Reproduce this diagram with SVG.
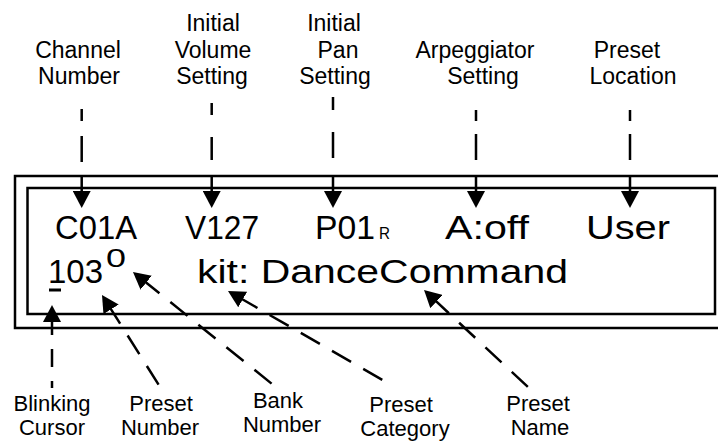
<svg xmlns="http://www.w3.org/2000/svg" width="718" height="442" viewBox="0 0 718 442">
<style>
.lbl{font-family:"Liberation Sans",Arial,sans-serif;font-size:23px;fill:#000;text-anchor:middle}
.bl{font-size:22px}
.lcd{font-family:"Liberation Sans",Arial,sans-serif;font-size:34px;fill:#000}
.box{fill:#fff;stroke:#000;stroke-width:2.5}
.con{fill:none;stroke:#000;stroke-width:2.5}
.dash{stroke-dasharray:22 14}
</style>
<defs>
<marker id="ah" viewBox="0 0 17 18" refX="5" refY="9" markerWidth="17" markerHeight="18" markerUnits="userSpaceOnUse" orient="auto-start-reverse">
<path d="M0,0 L17,9 L0,18 z" fill="#000"/>
</marker>
</defs>
<rect width="718" height="442" fill="#fff"/>

<g id="display">
<rect class="box" x="15" y="176" width="720" height="152"/>
<rect class="box" x="27.5" y="188" width="687.5" height="126"/>
<text class="lcd" x="55" y="239" textLength="82" lengthAdjust="spacingAndGlyphs">C01A</text>
<text class="lcd" x="185" y="239" textLength="74" lengthAdjust="spacingAndGlyphs">V127</text>
<text class="lcd" x="315" y="239" textLength="60" lengthAdjust="spacingAndGlyphs">P01</text>
<text class="lcd" x="379" y="239" style="font-size:16px" textLength="11" lengthAdjust="spacingAndGlyphs">R</text>
<text class="lcd" x="445" y="239" textLength="84" lengthAdjust="spacingAndGlyphs">A:off</text>
<text class="lcd" x="586" y="239" textLength="84" lengthAdjust="spacingAndGlyphs">User</text>
<text class="lcd" x="48" y="283" textLength="55" lengthAdjust="spacingAndGlyphs">103</text>
<text class="lcd" x="106" y="267" style="font-size:26px" textLength="20" lengthAdjust="spacingAndGlyphs">0</text>
<rect x="49" y="288.5" width="12" height="3" fill="#000"/>
<text class="lcd" x="197" y="283" textLength="371" lengthAdjust="spacingAndGlyphs">kit: DanceCommand</text>
</g>

<g id="label-channel"><text class="lbl" x="78" y="58">Channel</text><text class="lbl" x="79" y="84">Number</text></g>
<g id="label-volume"><text class="lbl" x="213" y="31">Initial</text><text class="lbl" x="213" y="58">Volume</text><text class="lbl" x="212" y="84">Setting</text></g>
<g id="label-pan"><text class="lbl" x="334" y="31">Initial</text><text class="lbl" x="338" y="58">Pan</text><text class="lbl" x="335" y="84">Setting</text></g>
<g id="label-arp"><text class="lbl" x="475" y="58">Arpeggiator</text><text class="lbl" x="483" y="84">Setting</text></g>
<g id="label-location"><text class="lbl" x="627" y="58">Preset</text><text class="lbl" x="633" y="84">Location</text></g>
<g id="label-cursor"><text class="lbl bl" x="52" y="411">Blinking</text><text class="lbl bl" x="52" y="435">Cursor</text></g>
<g id="label-presetnum"><text class="lbl bl" x="161" y="411">Preset</text><text class="lbl bl" x="160" y="435">Number</text></g>
<g id="label-bank"><text class="lbl bl" x="278" y="408">Bank</text><text class="lbl bl" x="282" y="432">Number</text></g>
<g id="label-category"><text class="lbl bl" x="401" y="412">Preset</text><text class="lbl bl" x="405" y="436">Category</text></g>
<g id="label-name"><text class="lbl bl" x="538" y="411">Preset</text><text class="lbl bl" x="540" y="435">Name</text></g>

<g id="connectors">
<path class="con" d="M81.7,109 V121 M81.7,136 V162 M81.7,176 V196" marker-end="url(#ah)"/>
<path class="con" d="M211.7,103 V115 M211.7,137 V160 M211.7,176 V196" marker-end="url(#ah)"/>
<path class="con" d="M333,97 V110 M333,132 V158 M333,176 V196" marker-end="url(#ah)"/>
<path class="con" d="M476,110 V121 M476,134 V160 M476,176 V196" marker-end="url(#ah)"/>
<path class="con" d="M630,110 V121 M630,134 V160 M630,176 V196" marker-end="url(#ah)"/>
<path class="con" d="M52,317 V388" style="stroke-dasharray:18 14" marker-start="url(#ah)"/>
<path class="con dash" d="M108.4,305.1 L162,390" marker-start="url(#ah)"/>
<path class="con dash" d="M142.3,279.5 L277,388" marker-start="url(#ah)"/>
<path class="con dash" d="M238.4,297 L393,386" marker-start="url(#ah)"/>
<path class="con dash" d="M432.8,298.2 L529,388" marker-start="url(#ah)"/>
</g>
</svg>
